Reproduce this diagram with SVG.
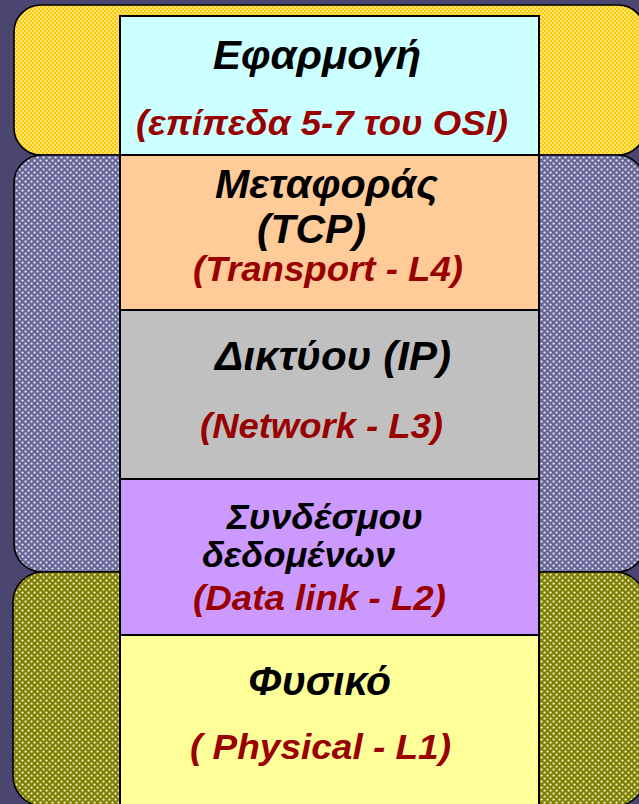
<svg xmlns="http://www.w3.org/2000/svg" width="639" height="804" viewBox="0 0 639 804">
<defs>
<pattern id="dotY" width="4" height="4" patternUnits="userSpaceOnUse">
<rect width="4" height="4" fill="#FFCC00"/>
<rect x="0.4" y="0.4" width="1.5" height="1.5" fill="#FFF8DD"/>
<rect x="2.4" y="2.4" width="1.5" height="1.5" fill="#FFF8DD"/>
</pattern>
<pattern id="dotP" width="6" height="6" patternUnits="userSpaceOnUse">
<rect width="6" height="6" fill="#666699"/>
<rect x="0.6" y="0.6" width="1.9" height="1.9" fill="#EEEEF6"/>
<rect x="3.6" y="3.6" width="1.9" height="1.9" fill="#EEEEF6"/>
</pattern>
<pattern id="dotO" width="6" height="6" patternUnits="userSpaceOnUse">
<rect width="6" height="6" fill="#808000"/>
<rect x="0.6" y="0.6" width="1.9" height="1.9" fill="#F6F6E4"/>
<rect x="3.6" y="3.6" width="1.9" height="1.9" fill="#F6F6E4"/>
</pattern>
</defs>
<style>
.band{stroke:#000;stroke-width:1.6}
.layer{stroke:#000;stroke-width:2}
.t{font-family:"Liberation Sans",Arial,sans-serif;font-weight:bold;font-style:italic}
.k{fill:#000;font-size:40px}
.k2{fill:#000;font-size:36px}
.r{fill:#990000;font-size:35px}
</style>
<rect width="639" height="804" fill="#4A4670"/>
<g id="bands">
<rect id="band-app" class="band" x="14" y="5" width="631" height="150" rx="27" fill="url(#dotY)"/>
<rect id="band-mid" class="band" x="14" y="155" width="631" height="417" rx="28" fill="url(#dotP)"/>
<rect id="band-low" class="band" x="13" y="572" width="632" height="234" rx="30" fill="url(#dotO)"/>
</g>
<g id="layer-app">
<rect class="layer" x="120" y="16" width="419" height="139" fill="#CCFFFF"/>
<text class="t k" x="213" y="69" textLength="208" lengthAdjust="spacingAndGlyphs">Εφαρμογή</text>
<text class="t r" x="136" y="135" textLength="372" lengthAdjust="spacingAndGlyphs">(επίπεδα 5-7 του OSI)</text>
</g>
<g id="layer-transport">
<rect class="layer" x="120" y="155" width="419" height="155" fill="#FFCC99"/>
<text class="t k" x="215" y="198" textLength="223" lengthAdjust="spacingAndGlyphs">Μεταφοράς</text>
<text class="t k" x="257" y="243" textLength="109" lengthAdjust="spacingAndGlyphs">(TCP)</text>
<text class="t r" x="193" y="281" textLength="270" lengthAdjust="spacingAndGlyphs">(Transport - L4)</text>
</g>
<g id="layer-network">
<rect class="layer" x="120" y="310" width="419" height="169" fill="#C0C0C0"/>
<text class="t k" x="215" y="370" textLength="236" lengthAdjust="spacingAndGlyphs">Δικτύου (IP)</text>
<text class="t r" x="200" y="438" textLength="243" lengthAdjust="spacingAndGlyphs">(Network - L3)</text>
</g>
<g id="layer-datalink">
<rect class="layer" x="120" y="479" width="419" height="156" fill="#CC99FF"/>
<text class="t k2" x="227" y="529" textLength="196" lengthAdjust="spacingAndGlyphs">Συνδέσμου</text>
<text class="t k2" x="202" y="567" textLength="193" lengthAdjust="spacingAndGlyphs">δεδομένων</text>
<text class="t r" x="193" y="610" textLength="253" lengthAdjust="spacingAndGlyphs">(Data link - L2)</text>
</g>
<g id="layer-physical">
<rect class="layer" x="120" y="635" width="419" height="180" fill="#FFFF99"/>
<text class="t k" x="248" y="695" textLength="143" lengthAdjust="spacingAndGlyphs">Φυσικό</text>
<text class="t r" x="190" y="759" textLength="261" lengthAdjust="spacingAndGlyphs">( Physical - L1)</text>
</g>
</svg>
